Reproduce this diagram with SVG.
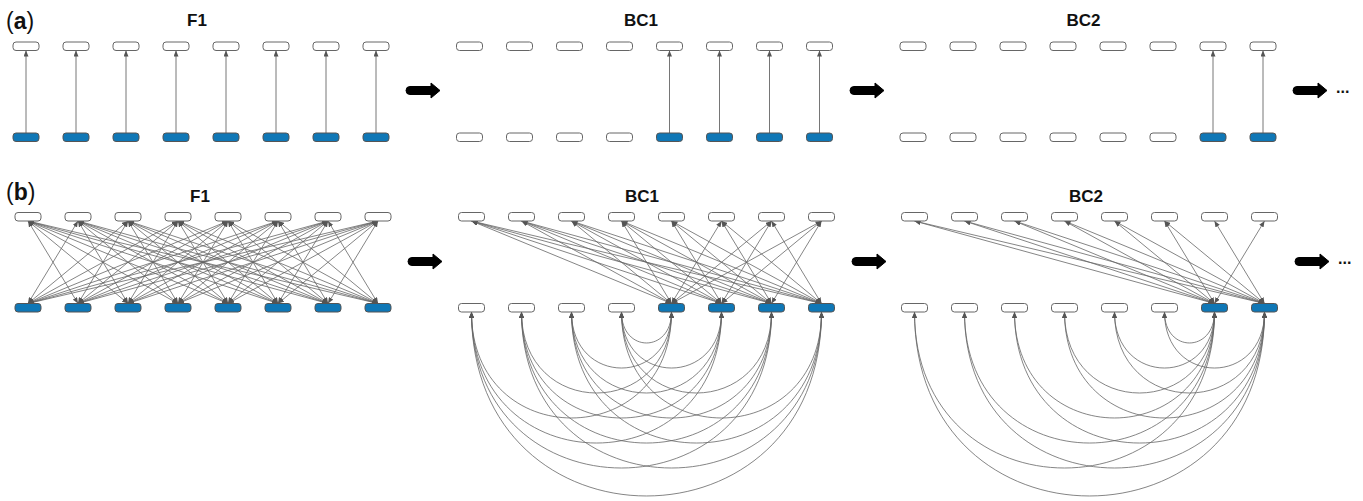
<svg xmlns="http://www.w3.org/2000/svg" width="1363" height="501" viewBox="0 0 1363 501">
<style>
.n{fill:#fff;stroke:#666;stroke-width:1}
.b{fill:#0f77b6;stroke:#555;stroke-width:1}
.e{fill:none;stroke:#666;stroke-width:0.8;marker-start:url(#ah);marker-end:url(#ah)}
.v{fill:none;stroke:#666;stroke-width:0.9;marker-end:url(#ah)}
.t{font-family:"Liberation Sans",Arial,sans-serif;font-weight:bold;font-size:17px;text-anchor:middle;fill:#111}
.lab{font-family:"Liberation Sans",Arial,sans-serif;font-size:23px;fill:#111}
.dots{font-family:"Liberation Sans",Arial,sans-serif;font-weight:bold;font-size:16px;fill:#111}
.big{fill:#000;stroke:#000;stroke-width:1;stroke-linejoin:round}
</style>
<defs>
<marker id="ah" markerUnits="userSpaceOnUse" markerWidth="6" markerHeight="5" refX="6" refY="2.5" orient="auto-start-reverse"><path d="M0,0 L6,2.5 L0,5 Z" fill="#555"/></marker>
<path id="bigarrow" d="M4,-4 H25 V-7.5 L34,0 L25,7.5 V4 H4 A4,4 0 0 1 4,-4 Z"/>
</defs>
<rect width="1363" height="501" fill="#fff"/>

<!-- labels -->
<text class="lab" x="6" y="29">(<tspan font-weight="bold">a</tspan>)</text>
<text class="lab" x="6" y="199.5">(<tspan font-weight="bold">b</tspan>)</text>
<text class="t" x="197" y="26">F1</text>
<text class="t" x="641" y="26">BC1</text>
<text class="t" x="1083.5" y="26">BC2</text>
<text class="t" x="200" y="202">F1</text>
<text class="t" x="642" y="202">BC1</text>
<text class="t" x="1086" y="202">BC2</text>

<!-- big arrows -->
<use href="#bigarrow" class="big" transform="translate(406,90.5)"/>
<use href="#bigarrow" class="big" transform="translate(850,90.5)"/>
<use href="#bigarrow" class="big" transform="translate(1293,90.5)"/>
<use href="#bigarrow" class="big" transform="translate(408,261.5)"/>
<use href="#bigarrow" class="big" transform="translate(852,261.5)"/>
<use href="#bigarrow" class="big" transform="translate(1295,261.5)"/>
<text class="dots" x="1336" y="93">...</text>
<text class="dots" x="1338" y="264">...</text>

<!-- connectors -->
<g id="connectors">
<g id="a-F1-edges">
<path class="v" d="M26 133V50.5"/><path class="v" d="M76 133V50.5"/><path class="v" d="M126 133V50.5"/><path class="v" d="M176 133V50.5"/>
<path class="v" d="M226 133V50.5"/><path class="v" d="M276 133V50.5"/><path class="v" d="M326 133V50.5"/><path class="v" d="M376 133V50.5"/>
</g>
<g id="a-BC1-edges">
<path class="v" d="M669.5 133V50.5"/><path class="v" d="M719.5 133V50.5"/><path class="v" d="M769.5 133V50.5"/><path class="v" d="M819.5 133V50.5"/>
</g>
<g id="a-BC2-edges">
<path class="v" d="M1213 133V50.5"/><path class="v" d="M1263 133V50.5"/>
</g>
<g id="b-F1-edges">
<path class="e" d="M28 303.5L78 221"/><path class="e" d="M28 303.5L128 221"/><path class="e" d="M28 303.5L178 221"/><path class="e" d="M28 303.5L228 221"/><path class="e" d="M28 303.5L278 221"/><path class="e" d="M28 303.5L328 221"/><path class="e" d="M28 303.5L378 221"/>
<path class="e" d="M78 303.5L28 221"/><path class="e" d="M78 303.5L128 221"/><path class="e" d="M78 303.5L178 221"/><path class="e" d="M78 303.5L228 221"/><path class="e" d="M78 303.5L278 221"/><path class="e" d="M78 303.5L328 221"/><path class="e" d="M78 303.5L378 221"/>
<path class="e" d="M128 303.5L28 221"/><path class="e" d="M128 303.5L78 221"/><path class="e" d="M128 303.5L178 221"/><path class="e" d="M128 303.5L228 221"/><path class="e" d="M128 303.5L278 221"/><path class="e" d="M128 303.5L328 221"/><path class="e" d="M128 303.5L378 221"/>
<path class="e" d="M178 303.5L28 221"/><path class="e" d="M178 303.5L78 221"/><path class="e" d="M178 303.5L128 221"/><path class="e" d="M178 303.5L228 221"/><path class="e" d="M178 303.5L278 221"/><path class="e" d="M178 303.5L328 221"/><path class="e" d="M178 303.5L378 221"/>
<path class="e" d="M228 303.5L28 221"/><path class="e" d="M228 303.5L78 221"/><path class="e" d="M228 303.5L128 221"/><path class="e" d="M228 303.5L178 221"/><path class="e" d="M228 303.5L278 221"/><path class="e" d="M228 303.5L328 221"/><path class="e" d="M228 303.5L378 221"/>
<path class="e" d="M278 303.5L28 221"/><path class="e" d="M278 303.5L78 221"/><path class="e" d="M278 303.5L128 221"/><path class="e" d="M278 303.5L178 221"/><path class="e" d="M278 303.5L228 221"/><path class="e" d="M278 303.5L328 221"/><path class="e" d="M278 303.5L378 221"/>
<path class="e" d="M328 303.5L28 221"/><path class="e" d="M328 303.5L78 221"/><path class="e" d="M328 303.5L128 221"/><path class="e" d="M328 303.5L178 221"/><path class="e" d="M328 303.5L228 221"/><path class="e" d="M328 303.5L278 221"/><path class="e" d="M328 303.5L378 221"/>
<path class="e" d="M378 303.5L28 221"/><path class="e" d="M378 303.5L78 221"/><path class="e" d="M378 303.5L128 221"/><path class="e" d="M378 303.5L178 221"/><path class="e" d="M378 303.5L228 221"/><path class="e" d="M378 303.5L278 221"/><path class="e" d="M378 303.5L328 221"/>
</g>
<g id="b-BC1-edges">
<path class="e" d="M671.5 303.5L471.5 221"/><path class="e" d="M671.5 303.5L521.5 221"/><path class="e" d="M671.5 303.5L571.5 221"/><path class="e" d="M671.5 303.5L621.5 221"/><path class="e" d="M671.5 303.5L721.5 221"/><path class="e" d="M671.5 303.5L771.5 221"/><path class="e" d="M671.5 303.5L821.5 221"/>
<path class="e" d="M721.5 303.5L471.5 221"/><path class="e" d="M721.5 303.5L521.5 221"/><path class="e" d="M721.5 303.5L571.5 221"/><path class="e" d="M721.5 303.5L621.5 221"/><path class="e" d="M721.5 303.5L671.5 221"/><path class="e" d="M721.5 303.5L771.5 221"/><path class="e" d="M721.5 303.5L821.5 221"/>
<path class="e" d="M771.5 303.5L471.5 221"/><path class="e" d="M771.5 303.5L521.5 221"/><path class="e" d="M771.5 303.5L571.5 221"/><path class="e" d="M771.5 303.5L621.5 221"/><path class="e" d="M771.5 303.5L671.5 221"/><path class="e" d="M771.5 303.5L721.5 221"/><path class="e" d="M771.5 303.5L821.5 221"/>
<path class="e" d="M821.5 303.5L471.5 221"/><path class="e" d="M821.5 303.5L521.5 221"/><path class="e" d="M821.5 303.5L571.5 221"/><path class="e" d="M821.5 303.5L621.5 221"/><path class="e" d="M821.5 303.5L671.5 221"/><path class="e" d="M821.5 303.5L721.5 221"/><path class="e" d="M821.5 303.5L771.5 221"/>
<path class="e" d="M471.5 312C471.5 453.3 671.5 453.3 671.5 312"/>
<path class="e" d="M471.5 312C471.5 486.7 721.5 486.7 721.5 312"/>
<path class="e" d="M471.5 312C471.5 520 771.5 520 771.5 312"/>
<path class="e" d="M471.5 312C471.5 557.3 821.5 557.3 821.5 312"/>
<path class="e" d="M521.5 312C521.5 420 671.5 420 671.5 312"/>
<path class="e" d="M521.5 312C521.5 453.3 721.5 453.3 721.5 312"/>
<path class="e" d="M521.5 312C521.5 486.7 771.5 486.7 771.5 312"/>
<path class="e" d="M521.5 312C521.5 520 821.5 520 821.5 312"/>
<path class="e" d="M571.5 312C571.5 386.7 671.5 386.7 671.5 312"/>
<path class="e" d="M571.5 312C571.5 420 721.5 420 721.5 312"/>
<path class="e" d="M571.5 312C571.5 453.3 771.5 453.3 771.5 312"/>
<path class="e" d="M571.5 312C571.5 486.7 821.5 486.7 821.5 312"/>
<path class="e" d="M621.5 312C621.5 353.3 671.5 353.3 671.5 312"/>
<path class="e" d="M621.5 312C621.5 386.7 721.5 386.7 721.5 312"/>
<path class="e" d="M621.5 312C621.5 420 771.5 420 771.5 312"/>
<path class="e" d="M621.5 312C621.5 453.3 821.5 453.3 821.5 312"/>
</g>
<g id="b-BC2-edges">
<path class="e" d="M1214.5 303.5L914.5 221"/><path class="e" d="M1214.5 303.5L964.5 221"/><path class="e" d="M1214.5 303.5L1014.5 221"/><path class="e" d="M1214.5 303.5L1064.5 221"/><path class="e" d="M1214.5 303.5L1114.5 221"/><path class="e" d="M1214.5 303.5L1164.5 221"/><path class="e" d="M1214.5 303.5L1264.5 221"/>
<path class="e" d="M1264.5 303.5L914.5 221"/><path class="e" d="M1264.5 303.5L964.5 221"/><path class="e" d="M1264.5 303.5L1014.5 221"/><path class="e" d="M1264.5 303.5L1064.5 221"/><path class="e" d="M1264.5 303.5L1114.5 221"/><path class="e" d="M1264.5 303.5L1164.5 221"/><path class="e" d="M1264.5 303.5L1214.5 221"/>
<path class="e" d="M914.5 312C914.5 520 1214.5 520 1214.5 312"/>
<path class="e" d="M914.5 312C914.5 557.3 1264.5 557.3 1264.5 312"/>
<path class="e" d="M964.5 312C964.5 486.7 1214.5 486.7 1214.5 312"/>
<path class="e" d="M964.5 312C964.5 520 1264.5 520 1264.5 312"/>
<path class="e" d="M1014.5 312C1014.5 453.3 1214.5 453.3 1214.5 312"/>
<path class="e" d="M1014.5 312C1014.5 486.7 1264.5 486.7 1264.5 312"/>
<path class="e" d="M1064.5 312C1064.5 420 1214.5 420 1214.5 312"/>
<path class="e" d="M1064.5 312C1064.5 453.3 1264.5 453.3 1264.5 312"/>
<path class="e" d="M1114.5 312C1114.5 386.7 1214.5 386.7 1214.5 312"/>
<path class="e" d="M1114.5 312C1114.5 420 1264.5 420 1264.5 312"/>
<path class="e" d="M1164.5 312C1164.5 353.3 1214.5 353.3 1214.5 312"/>
<path class="e" d="M1164.5 312C1164.5 386.7 1264.5 386.7 1264.5 312"/>
</g>
</g>

<!-- nodes panel a -->
<g id="a-F1-nodes">
<g id="a-F1-t1"><rect class="n" x="13" y="42" width="26" height="8.5" rx="3"/></g>
<g id="a-F1-t2"><rect class="n" x="63" y="42" width="26" height="8.5" rx="3"/></g>
<g id="a-F1-t3"><rect class="n" x="113" y="42" width="26" height="8.5" rx="3"/></g>
<g id="a-F1-t4"><rect class="n" x="163" y="42" width="26" height="8.5" rx="3"/></g>
<g id="a-F1-t5"><rect class="n" x="213" y="42" width="26" height="8.5" rx="3"/></g>
<g id="a-F1-t6"><rect class="n" x="263" y="42" width="26" height="8.5" rx="3"/></g>
<g id="a-F1-t7"><rect class="n" x="313" y="42" width="26" height="8.5" rx="3"/></g>
<g id="a-F1-t8"><rect class="n" x="363" y="42" width="26" height="8.5" rx="3"/></g>
<g id="a-F1-b1"><rect class="b" x="13" y="133" width="26" height="8.5" rx="3"/></g>
<g id="a-F1-b2"><rect class="b" x="63" y="133" width="26" height="8.5" rx="3"/></g>
<g id="a-F1-b3"><rect class="b" x="113" y="133" width="26" height="8.5" rx="3"/></g>
<g id="a-F1-b4"><rect class="b" x="163" y="133" width="26" height="8.5" rx="3"/></g>
<g id="a-F1-b5"><rect class="b" x="213" y="133" width="26" height="8.5" rx="3"/></g>
<g id="a-F1-b6"><rect class="b" x="263" y="133" width="26" height="8.5" rx="3"/></g>
<g id="a-F1-b7"><rect class="b" x="313" y="133" width="26" height="8.5" rx="3"/></g>
<g id="a-F1-b8"><rect class="b" x="363" y="133" width="26" height="8.5" rx="3"/></g>
</g>
<g id="a-BC1-nodes">
<g id="a-BC1-t1"><rect class="n" x="456.5" y="42" width="26" height="8.5" rx="3"/></g>
<g id="a-BC1-t2"><rect class="n" x="506.5" y="42" width="26" height="8.5" rx="3"/></g>
<g id="a-BC1-t3"><rect class="n" x="556.5" y="42" width="26" height="8.5" rx="3"/></g>
<g id="a-BC1-t4"><rect class="n" x="606.5" y="42" width="26" height="8.5" rx="3"/></g>
<g id="a-BC1-t5"><rect class="n" x="656.5" y="42" width="26" height="8.5" rx="3"/></g>
<g id="a-BC1-t6"><rect class="n" x="706.5" y="42" width="26" height="8.5" rx="3"/></g>
<g id="a-BC1-t7"><rect class="n" x="756.5" y="42" width="26" height="8.5" rx="3"/></g>
<g id="a-BC1-t8"><rect class="n" x="806.5" y="42" width="26" height="8.5" rx="3"/></g>
<g id="a-BC1-b1"><rect class="n" x="456.5" y="133" width="26" height="8.5" rx="3"/></g>
<g id="a-BC1-b2"><rect class="n" x="506.5" y="133" width="26" height="8.5" rx="3"/></g>
<g id="a-BC1-b3"><rect class="n" x="556.5" y="133" width="26" height="8.5" rx="3"/></g>
<g id="a-BC1-b4"><rect class="n" x="606.5" y="133" width="26" height="8.5" rx="3"/></g>
<g id="a-BC1-b5"><rect class="b" x="656.5" y="133" width="26" height="8.5" rx="3"/></g>
<g id="a-BC1-b6"><rect class="b" x="706.5" y="133" width="26" height="8.5" rx="3"/></g>
<g id="a-BC1-b7"><rect class="b" x="756.5" y="133" width="26" height="8.5" rx="3"/></g>
<g id="a-BC1-b8"><rect class="b" x="806.5" y="133" width="26" height="8.5" rx="3"/></g>
</g>
<g id="a-BC2-nodes">
<g id="a-BC2-t1"><rect class="n" x="900" y="42" width="26" height="8.5" rx="3"/></g>
<g id="a-BC2-t2"><rect class="n" x="950" y="42" width="26" height="8.5" rx="3"/></g>
<g id="a-BC2-t3"><rect class="n" x="1000" y="42" width="26" height="8.5" rx="3"/></g>
<g id="a-BC2-t4"><rect class="n" x="1050" y="42" width="26" height="8.5" rx="3"/></g>
<g id="a-BC2-t5"><rect class="n" x="1100" y="42" width="26" height="8.5" rx="3"/></g>
<g id="a-BC2-t6"><rect class="n" x="1150" y="42" width="26" height="8.5" rx="3"/></g>
<g id="a-BC2-t7"><rect class="n" x="1200" y="42" width="26" height="8.5" rx="3"/></g>
<g id="a-BC2-t8"><rect class="n" x="1250" y="42" width="26" height="8.5" rx="3"/></g>
<g id="a-BC2-b1"><rect class="n" x="900" y="133" width="26" height="8.5" rx="3"/></g>
<g id="a-BC2-b2"><rect class="n" x="950" y="133" width="26" height="8.5" rx="3"/></g>
<g id="a-BC2-b3"><rect class="n" x="1000" y="133" width="26" height="8.5" rx="3"/></g>
<g id="a-BC2-b4"><rect class="n" x="1050" y="133" width="26" height="8.5" rx="3"/></g>
<g id="a-BC2-b5"><rect class="n" x="1100" y="133" width="26" height="8.5" rx="3"/></g>
<g id="a-BC2-b6"><rect class="n" x="1150" y="133" width="26" height="8.5" rx="3"/></g>
<g id="a-BC2-b7"><rect class="b" x="1200" y="133" width="26" height="8.5" rx="3"/></g>
<g id="a-BC2-b8"><rect class="b" x="1250" y="133" width="26" height="8.5" rx="3"/></g>
</g>

<!-- nodes panel b -->
<g id="b-F1-nodes">
<g id="b-F1-t1"><rect class="n" x="15" y="212.5" width="26" height="8.5" rx="3"/></g>
<g id="b-F1-t2"><rect class="n" x="65" y="212.5" width="26" height="8.5" rx="3"/></g>
<g id="b-F1-t3"><rect class="n" x="115" y="212.5" width="26" height="8.5" rx="3"/></g>
<g id="b-F1-t4"><rect class="n" x="165" y="212.5" width="26" height="8.5" rx="3"/></g>
<g id="b-F1-t5"><rect class="n" x="215" y="212.5" width="26" height="8.5" rx="3"/></g>
<g id="b-F1-t6"><rect class="n" x="265" y="212.5" width="26" height="8.5" rx="3"/></g>
<g id="b-F1-t7"><rect class="n" x="315" y="212.5" width="26" height="8.5" rx="3"/></g>
<g id="b-F1-t8"><rect class="n" x="365" y="212.5" width="26" height="8.5" rx="3"/></g>
<g id="b-F1-b1"><rect class="b" x="15" y="303.5" width="26" height="8.5" rx="3"/></g>
<g id="b-F1-b2"><rect class="b" x="65" y="303.5" width="26" height="8.5" rx="3"/></g>
<g id="b-F1-b3"><rect class="b" x="115" y="303.5" width="26" height="8.5" rx="3"/></g>
<g id="b-F1-b4"><rect class="b" x="165" y="303.5" width="26" height="8.5" rx="3"/></g>
<g id="b-F1-b5"><rect class="b" x="215" y="303.5" width="26" height="8.5" rx="3"/></g>
<g id="b-F1-b6"><rect class="b" x="265" y="303.5" width="26" height="8.5" rx="3"/></g>
<g id="b-F1-b7"><rect class="b" x="315" y="303.5" width="26" height="8.5" rx="3"/></g>
<g id="b-F1-b8"><rect class="b" x="365" y="303.5" width="26" height="8.5" rx="3"/></g>
</g>
<g id="b-BC1-nodes">
<g id="b-BC1-t1"><rect class="n" x="458.5" y="212.5" width="26" height="8.5" rx="3"/></g>
<g id="b-BC1-t2"><rect class="n" x="508.5" y="212.5" width="26" height="8.5" rx="3"/></g>
<g id="b-BC1-t3"><rect class="n" x="558.5" y="212.5" width="26" height="8.5" rx="3"/></g>
<g id="b-BC1-t4"><rect class="n" x="608.5" y="212.5" width="26" height="8.5" rx="3"/></g>
<g id="b-BC1-t5"><rect class="n" x="658.5" y="212.5" width="26" height="8.5" rx="3"/></g>
<g id="b-BC1-t6"><rect class="n" x="708.5" y="212.5" width="26" height="8.5" rx="3"/></g>
<g id="b-BC1-t7"><rect class="n" x="758.5" y="212.5" width="26" height="8.5" rx="3"/></g>
<g id="b-BC1-t8"><rect class="n" x="808.5" y="212.5" width="26" height="8.5" rx="3"/></g>
<g id="b-BC1-b1"><rect class="n" x="458.5" y="303.5" width="26" height="8.5" rx="3"/></g>
<g id="b-BC1-b2"><rect class="n" x="508.5" y="303.5" width="26" height="8.5" rx="3"/></g>
<g id="b-BC1-b3"><rect class="n" x="558.5" y="303.5" width="26" height="8.5" rx="3"/></g>
<g id="b-BC1-b4"><rect class="n" x="608.5" y="303.5" width="26" height="8.5" rx="3"/></g>
<g id="b-BC1-b5"><rect class="b" x="658.5" y="303.5" width="26" height="8.5" rx="3"/></g>
<g id="b-BC1-b6"><rect class="b" x="708.5" y="303.5" width="26" height="8.5" rx="3"/></g>
<g id="b-BC1-b7"><rect class="b" x="758.5" y="303.5" width="26" height="8.5" rx="3"/></g>
<g id="b-BC1-b8"><rect class="b" x="808.5" y="303.5" width="26" height="8.5" rx="3"/></g>
</g>
<g id="b-BC2-nodes">
<g id="b-BC2-t1"><rect class="n" x="901.5" y="212.5" width="26" height="8.5" rx="3"/></g>
<g id="b-BC2-t2"><rect class="n" x="951.5" y="212.5" width="26" height="8.5" rx="3"/></g>
<g id="b-BC2-t3"><rect class="n" x="1001.5" y="212.5" width="26" height="8.5" rx="3"/></g>
<g id="b-BC2-t4"><rect class="n" x="1051.5" y="212.5" width="26" height="8.5" rx="3"/></g>
<g id="b-BC2-t5"><rect class="n" x="1101.5" y="212.5" width="26" height="8.5" rx="3"/></g>
<g id="b-BC2-t6"><rect class="n" x="1151.5" y="212.5" width="26" height="8.5" rx="3"/></g>
<g id="b-BC2-t7"><rect class="n" x="1201.5" y="212.5" width="26" height="8.5" rx="3"/></g>
<g id="b-BC2-t8"><rect class="n" x="1251.5" y="212.5" width="26" height="8.5" rx="3"/></g>
<g id="b-BC2-b1"><rect class="n" x="901.5" y="303.5" width="26" height="8.5" rx="3"/></g>
<g id="b-BC2-b2"><rect class="n" x="951.5" y="303.5" width="26" height="8.5" rx="3"/></g>
<g id="b-BC2-b3"><rect class="n" x="1001.5" y="303.5" width="26" height="8.5" rx="3"/></g>
<g id="b-BC2-b4"><rect class="n" x="1051.5" y="303.5" width="26" height="8.5" rx="3"/></g>
<g id="b-BC2-b5"><rect class="n" x="1101.5" y="303.5" width="26" height="8.5" rx="3"/></g>
<g id="b-BC2-b6"><rect class="n" x="1151.5" y="303.5" width="26" height="8.5" rx="3"/></g>
<g id="b-BC2-b7"><rect class="b" x="1201.5" y="303.5" width="26" height="8.5" rx="3"/></g>
<g id="b-BC2-b8"><rect class="b" x="1251.5" y="303.5" width="26" height="8.5" rx="3"/></g>
</g>
</svg>
